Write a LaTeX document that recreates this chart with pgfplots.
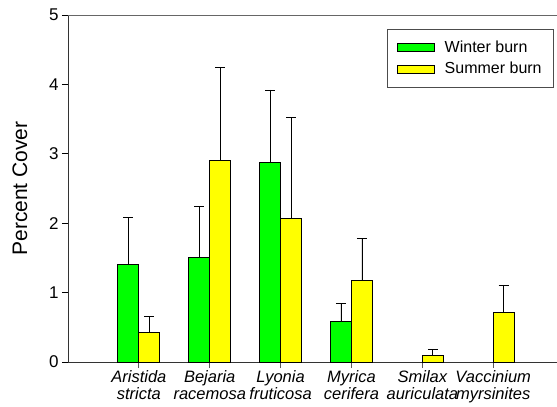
\documentclass[border=0pt]{standalone}
\usepackage{pgfplots}
\pgfplotsset{compat=1.18}
\usepackage{fontspec}
\setmainfont{Liberation Sans}
\definecolor{wgreen}{RGB}{0,255,0}
\definecolor{syellow}{RGB}{255,255,0}
\begin{document}
\begin{tikzpicture}
\begin{axis}[
  at={(0,0)}, anchor=south west,
  scale only axis, width=489pt, height=347pt,
  xmin=-1, xmax=5.9, ymin=0, ymax=5,
  axis x line*=bottom, axis y line*=left,
  axis line style={line width=0.9pt, black!80},
  ybar=0pt, bar width=21pt,
  xtick={0,1,2,3,4,5},
  xticklabels={{Aristida\\stricta},{Bejaria\\racemosa},{Lyonia\\fruticosa},{Myrica\\cerifera},{Smilax\\auriculata},{Vaccinium\\myrsinites}},
  x tick label style={align=center, font=\fontsize{16.5}{17}\selectfont\itshape, yshift=1pt},
  ytick={0,1,2,3,4,5},
  y tick label style={font=\fontsize{17}{17}\selectfont},
  /pgf/number format/assume math mode=true,
  tick align=outside, major tick length=6pt,
  x tick style={gray!70!black, line width=0.9pt},
  y tick style={black, line width=0.9pt},
  every axis y label/.style={at={(axis description cs:0,0.5)}, xshift=-48pt, rotate=90, anchor=center, font=\fontsize{21}{21}\selectfont},
  ylabel={Percent Cover},
  legend style={at={(rel axis cs:0.994,0.96)}, anchor=north east, draw=gray!60!black, line width=0.8pt,
    font=\fontsize{16}{16}\selectfont, row sep=4pt, inner xsep=10pt, inner ysep=10pt},
  legend cell align=left,
  legend image code/.code={\draw[#1, line width=0.8pt] (0pt,-4pt) rectangle (37pt,4pt); \path (45pt,0pt);},
  error bars/error bar style={black, line width=0.8pt},
  error bars/error mark options={rotate=90, mark size=5pt, line width=0.8pt, black},
]
\addplot[fill=wgreen, draw=black, line width=0.8pt,
  error bars/.cd, y dir=plus, y explicit]
  coordinates {(0,1.41) +- (0,0.67) (1,1.51) +- (0,0.73) (2,2.87) +- (0,1.05) (3,0.58) +- (0,0.27)};
\addlegendentry{Winter burn}
\addplot[fill=syellow, draw=black, line width=0.8pt,
  error bars/.cd, y dir=plus, y explicit]
  coordinates {(0,0.42) +- (0,0.23) (1,2.91) +- (0,1.34) (2,2.07) +- (0,1.45) (3,1.17) +- (0,0.61) (4,0.09) +- (0,0.09) (5,0.71) +- (0,0.40)};
\addlegendentry{Summer burn}
\draw[gray!80!black, line width=1.2pt] (rel axis cs:0,1) -- (rel axis cs:1,1);
\end{axis}
\pgfresetboundingbox
\path[use as bounding box] (-68pt,-45pt) rectangle (489pt,362pt);
\end{tikzpicture}
\end{document}
